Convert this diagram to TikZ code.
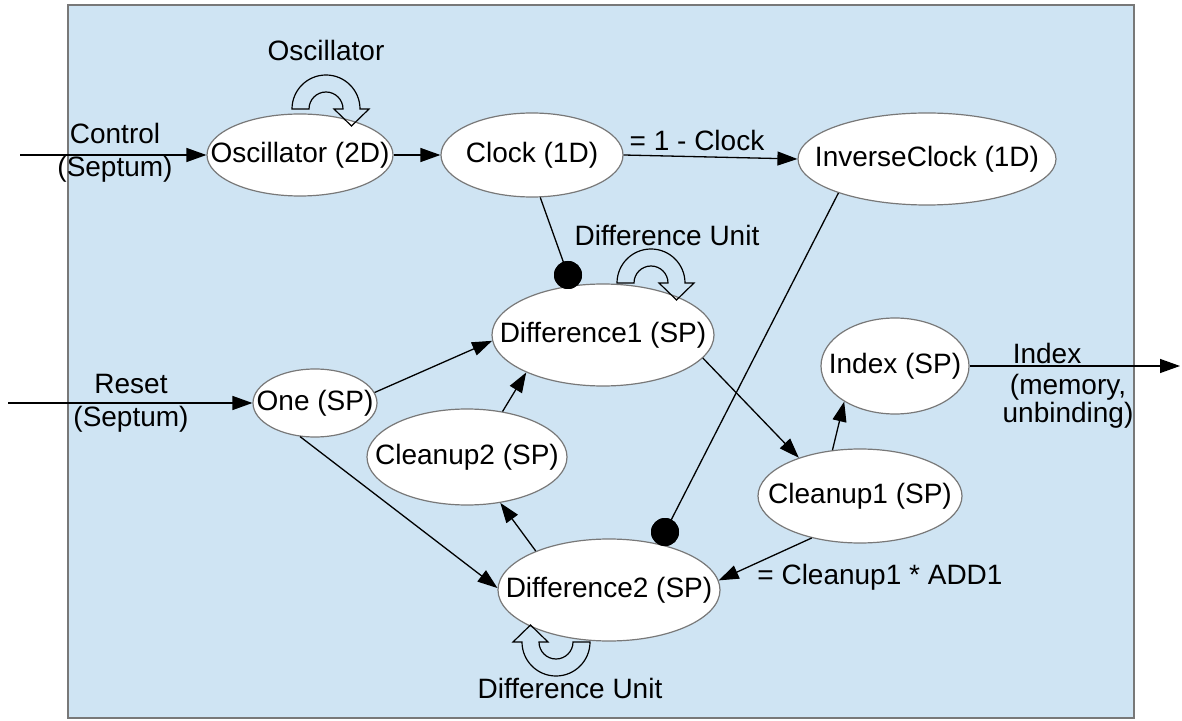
\documentclass[tikz,border=0pt]{standalone}
\usepackage{fontspec}
\setmainfont{Liberation Sans}
\usetikzlibrary{shapes.geometric,arrows.meta}
\definecolor{bgblue}{RGB}{207,228,243}
\definecolor{elborder}{RGB}{120,120,120}
\newcommand\zt[1]{\makebox[0pt]{#1}}
\begin{document}
\begin{tikzpicture}[x=0.5pt,y=-0.5pt,
  font=\fontsize{14}{16.5}\selectfont,
  el/.style={ellipse, draw=elborder, fill=white, line width=0.6pt, inner sep=0pt},
  arr/.style={draw=black, line width=0.65pt, -{Triangle[length=10pt,width=7pt]}},
  plainline/.style={draw=black, line width=0.65pt},
  dot/.style={circle, fill=black, inner sep=0pt, minimum size=14pt},
  lbl/.style={inner sep=0pt, align=center},
  loopsym/.pic={\draw[line width=0.6pt, line join=miter]
      (-34,0) arc[start angle=180,end angle=360,radius=34]
      -- (43,0) -- (25.5,17) -- (8,0) -- (17,0)
      arc[start angle=0,end angle=-180,radius=17] -- cycle;}]
\useasboundingbox (0,0) rectangle (1182,721);
\fill[bgblue, draw=elborder, line width=0.6pt] (68,5) rectangle (1134,718);

% nodes
\node[el, minimum width=93pt, minimum height=41pt] (osc) at (300,155) {\zt{Oscillator (2D)}};
\node[el, minimum width=91pt, minimum height=42pt] (clk) at (532,155) {\zt{Clock (1D)}};
\node[el, minimum width=129pt, minimum height=46pt] (inv) at (927,159) {\zt{InverseClock (1D)}};
\node[el, minimum width=111pt, minimum height=51pt] (d1) at (603,335) {\zt{Difference1 (SP)}};
\node[el, minimum width=62pt, minimum height=34pt] (one) at (315,403) {\zt{One (SP)}};
\node[el, minimum width=74pt, minimum height=48pt] (ix) at (895,366) {\zt{Index (SP)}};
\node[el, minimum width=100pt, minimum height=48pt] (c2) at (467,457) {\zt{Cleanup2 (SP)}};
\node[el, minimum width=102pt, minimum height=47pt] (c1) at (860,496) {\zt{Cleanup1 (SP)}};
\node[el, minimum width=111pt, minimum height=51pt] (d2) at (609,590) {\zt{Difference2 (SP)}};

\coordinate (cin) at (20,155);
\coordinate (rin) at (8,403);
\coordinate (iout) at (1180,366);
\node[dot] (dot1) at (568,275) {};
\node[dot] (dot2) at (665,532) {};

% connectors
\draw[arr] (cin) -- (osc.west);
\draw[arr] (rin) -- (one.west);
\draw[arr] (osc.east) -- (clk.west);
\draw[arr] (clk.east) -- (inv.west);
\draw[arr] (ix.east) -- (iout);
\draw[arr] (one.10) -- (d1.183);
\draw[arr] (one.246) -- (d2.179);
\draw[arr] (c2.52) -- (d1.206);
\draw[arr] (d2.152) -- (c2.306);
\draw[arr] (d1.347) -- (c1.148);
\draw[arr] (c1.121) -- (ix.215);
\draw[arr] (c1.221) -- (d2.5);
\draw[plainline] (clk.281) -- (dot1.center);
\draw[plainline] (inv.201) -- (dot2.center);
\node[dot] at (dot1) {};
\node[dot] at (dot2) {};

% self-loop symbols
\pic at (326,109) {loopsym};
\pic at (651,283) {loopsym};
\pic[rotate=180] at (556,642) {loopsym};

% labels
\node[lbl] (lctl) at (115,153) {Control\\(Septum)};
\node[lbl] (lrst) at (131,403) {Reset\\(Septum)};
\node[lbl] (lclk) at (697,140) {= 1 - Clock};
\node[lbl] (ladd) at (880,577) {= Cleanup1 * ADD1};
\node[lbl] (losc) at (326,50) {Oscillator};
\node[lbl] (lu1) at (667,235) {Difference Unit};
\node[lbl] (lu2) at (570,688) {Difference Unit};
\node[lbl] (lix) at (1047,353) {Index};
\node[lbl, font=\fontsize{14}{11.5}\selectfont] (lmem) at (1068,401) {(memory,\\unbinding)};
\end{tikzpicture}
\end{document}
